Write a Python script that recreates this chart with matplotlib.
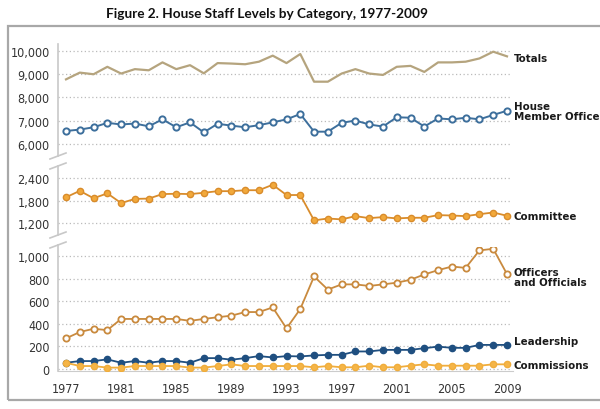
import matplotlib.pyplot as plt
import matplotlib.patches as mpatches
from matplotlib.lines import Line2D

plt.rcParams['font.family'] = ['DejaVu Sans']
plt.rcParams['font.stretch'] = 'condensed'

years = list(range(1977, 2010))
totals = [8780, 9070, 9000, 9320, 9030, 9220, 9170, 9510, 9220, 9390, 9040,
          9480, 9460, 9430, 9540, 9800, 9480, 9870, 8680, 8680, 9030, 9220,
          9030, 8970, 9320, 9360, 9100, 9510, 9510, 9540, 9680, 9970, 9770]
member_office = [6560, 6620, 6720, 6910, 6840, 6880, 6760, 7060, 6720, 6930, 6500,
                 6870, 6790, 6720, 6810, 6930, 7060, 7290, 6530, 6530, 6910, 7010,
                 6840, 6750, 7150, 7130, 6750, 7100, 7060, 7130, 7060, 7250, 7430]
committee = [1886, 2057, 1860, 1990, 1731, 1843, 1851, 1971, 1980, 1971, 2006,
             2049, 2049, 2074, 2074, 2220, 1946, 1946, 1270, 1320, 1296, 1383,
             1330, 1357, 1322, 1340, 1340, 1410, 1400, 1383, 1435, 1480, 1393]
officers = [271, 327, 356, 344, 443, 443, 443, 443, 443, 426, 443,
            458, 472, 504, 504, 545, 359, 531, 819, 703, 749, 749,
            735, 749, 764, 790, 837, 875, 907, 895, 1050, 1064, 840]
leadership = [55, 70, 70, 85, 55, 70, 55, 70, 70, 55, 96,
              96, 82, 96, 114, 102, 114, 111, 120, 125, 125, 155,
              155, 169, 169, 169, 184, 198, 187, 187, 213, 213, 213]
commissions = [55, 26, 26, 12, 12, 26, 26, 26, 26, 12, 12,
               26, 41, 26, 26, 26, 26, 26, 15, 26, 15, 15,
               29, 15, 15, 29, 41, 29, 29, 29, 29, 41, 41]

top_ticks = [6000, 7000, 8000, 9000, 10000]
mid_ticks = [1200, 1800, 2400]
bot_ticks = [0, 200, 400, 600, 800, 1000]
xticks = list(range(1977, 2010, 4))

W, H = 600, 410
fig = plt.figure(figsize=(W / 100, H / 100), dpi=100)

def px_axes(x0, y0, x1, y1):
    # pixel box (top-left origin) -> figure axes
    return fig.add_axes([x0 / W, 1 - y1 / H, (x1 - x0) / W, (y1 - y0) / H])

# border frame
fig.patches.append(mpatches.Rectangle((8 / W, 1 - 401 / H), 600 / W, 374 / H,
                                      transform=fig.transFigure, fill=False,
                                      edgecolor='#a8a8a8', lw=1.6))

fig.text(0.445, 1 - 14 / H, 'Figure 2. House Staff Levels by Category, 1977-2009',
         ha='center', va='center', fontsize=9.8, fontweight='bold',
         family=['Lato', 'DejaVu Sans'], color='#111111')

xl = (1977 - 8 / 13.78, 2009 + 8 / 13.78)
ax_top = px_axes(58, 45, 515, 150)
ax_mid = px_axes(58, 170, 515, 230)
ax_bot = px_axes(58, 248, 515, 372)
ax_top.set_ylim(5785, 10301)
ax_mid.set_ylim(1040, 2640)
ax_bot.set_ylim(-18, 1080)

for ax, ticks in [(ax_top, top_ticks), (ax_mid, mid_ticks), (ax_bot, bot_ticks)]:
    ax.set_xlim(*xl)
    ax.patch.set_alpha(0)
    for s in ax.spines.values():
        s.set_visible(False)
    ax.set_yticks(ticks)
    ax.set_yticklabels([f'{t:,}' for t in ticks], fontsize=9, color='#333333')
    ax.tick_params(axis='y', length=0, pad=6)
    ax.tick_params(axis='x', length=0)
    for t in ticks:
        ax.plot([xl[0], 2009.3], [t, t], ls=(0, (1, 2)), color='#bbbbbb', lw=0.9, zorder=1)
    ax.set_xticks([])

ax_bot.set_xticks(xticks)
ax_bot.set_xticklabels([str(y) for y in xticks], fontsize=9, color='#333333')
ax_bot.tick_params(axis='x', pad=8)
ax_bot.spines['bottom'].set_visible(True)
ax_bot.spines['bottom'].set_color('#cccccc')
ax_bot.spines['bottom'].set_bounds(xl[0], 2009.4)

# series
ax_top.plot(years, totals, color='#b5a47e', lw=1.6, zorder=3)
ax_top.plot(years, member_office, color='#3d6f9c', lw=1.4, marker='o', ms=4.5,
            mfc='white', mec='#3d6f9c', mew=1.4, zorder=3)
ax_mid.plot(years, committee, color='#d98c2b', lw=1.3, marker='o', ms=4.5,
            mfc='#f2a93b', mec='#d98c2b', mew=1.0, zorder=3)
ax_bot.plot(years, officers, color='#c98a3e', lw=1.3, marker='o', ms=4.5,
            mfc='white', mec='#c98a3e', mew=1.3, zorder=3)
ax_bot.plot(years, leadership, color='#1f4f80', lw=1.3, marker='o', ms=4.5,
            mfc='#1f4f80', mec='#1f4f80', zorder=4)
ax_bot.plot(years, commissions, color='#f0ad3c', lw=1.3, marker='o', ms=4.5,
            mfc='#f5b547', mec='#f0ad3c', zorder=5)

# broken vertical axis and break marks (pixel coords)
def fig_line(xs, ys, **kw):
    fig.add_artist(Line2D([x / W for x in xs], [1 - y / H for y in ys],
                          transform=fig.transFigure, **kw))

axc = '#c8c8c8'
fig_line([58, 58], [45, 157], color=axc, lw=1.2)
fig_line([58, 58], [167, 236], color=axc, lw=1.2)
fig_line([58, 58], [246, 372], color=axc, lw=1.2)
for y in (157, 167):
    fig_line([50, 66], [y + 3, y - 3], color=axc, lw=1.2)
for y in (236, 246):
    fig_line([50, 66], [y + 3, y - 3], color=axc, lw=1.2)

# series labels
lab = dict(fontsize=8.2, fontweight='bold', color='#1a1a1a', ha='left', va='center')
fig.text(514 / W, 1 - 59 / H, 'Totals', **lab)
fig.text(514 / W, 1 - 112 / H, 'House\nMember Office', linespacing=1.0, **lab)
fig.text(514 / W, 1 - 217 / H, 'Committee', **lab)
fig.text(514 / W, 1 - 278 / H, 'Officers\nand Officials', linespacing=1.0, **lab)
fig.text(514 / W, 1 - 342 / H, 'Leadership', **lab)
fig.text(514 / W, 1 - 366 / H, 'Commissions', **lab)

fig.savefig('out.png', dpi=100)
